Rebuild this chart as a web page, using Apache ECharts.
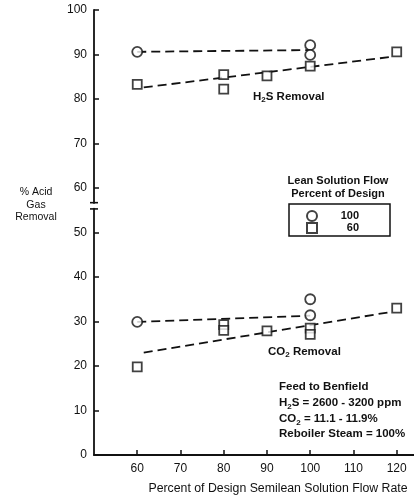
<!DOCTYPE html>
<html>
<head>
<meta charset="utf-8">
<script src="https://cdn.jsdelivr.net/npm/echarts@6/dist/echarts.min.js"></script>
<style>html,body{margin:0;padding:0;background:#fff}#c{width:414px;height:496px}</style>
</head>
<body>
<div id="c"></div>
<script>
// ---- data ----
var xTicks = [60, 70, 80, 90, 100, 110, 120];
var h2s100 = [[60, 90.6], [100, 92.1], [100, 89.9]];
var h2s60 = [[60, 83.3], [80, 85.5], [80, 82.2], [90, 85.2], [100, 87.4], [120, 90.6]];
var co2100 = [[60, 29.9], [100, 35.0], [100, 31.4]];
var co260 = [[60, 19.8], [80, 29.3], [80, 28.0], [90, 27.9], [100, 28.5], [100, 27.1], [120, 33.0]];
var fitH2s100 = [[60, 90.6], [100, 91.0]];
var fitH2s60 = [[61.5, 82.6], [119, 89.5]];
var fitCo2100 = [[60, 29.9], [100, 31.3]];
var fitCo260 = [[61.5, 23.0], [119, 32.2]];
var legendNames = ['100', '60'];
var breakRange = [55.3, 56.7];

var FONT = 'Liberation Sans, Arial, sans-serif';
var chart = echarts.init(document.getElementById('c'), null, {renderer: 'canvas'});

function fitSeries(d) {
  return {
    type: 'line', data: d, symbol: 'none', silent: true, z: 2,
    lineStyle: {color: '#111', width: 1.8, type: [9, 5]}
  };
}
var markStyle = {color: '#fff', borderColor: '#111', borderWidth: 1.8};
var subRich = function (lh) {
  return {
    b: {font: 'bold 11.5px ' + FONT, fill: '#111', lineHeight: lh},
    s: {font: 'bold 8px ' + FONT, fill: '#111', lineHeight: lh, verticalAlign: 'bottom', padding: [5, 0, 0, 0]}
  };
};

var baseGraphic = [
  {id: 'legTitle', type: 'text', x: 338, y: 175, style: {text: 'Lean Solution Flow\nPercent of Design', align: 'center', verticalAlign: 'top', font: 'bold 11px ' + FONT, fill: '#111', lineHeight: 12.5}},
  {id: 'yName', type: 'text', x: 36, y: 186, style: {text: '% Acid\nGas\nRemoval', align: 'center', verticalAlign: 'top', font: '10.5px ' + FONT, fill: '#111', lineHeight: 12.5}},
  {id: 'h2sLab', type: 'text', x: 253, y: 90, style: {text: '{b|H}{s|2}{b|S Removal}', rich: subRich(14)}},
  {id: 'co2Lab', type: 'text', x: 268, y: 345, style: {text: '{b|CO}{s|2}{b| Removal}', rich: subRich(14)}},
  {id: 'feed', type: 'text', x: 279, y: 379, style: {
    text: '{b|Feed to Benfield}\n{b|H}{s|2}{b|S = 2600 - 3200 ppm}\n{b|CO}{s|2}{b| = 11.1 - 11.9%}\n{b|Reboiler Steam = 100%}',
    rich: subRich(15.8)
  }}
];

var option = {
  animation: false,
  backgroundColor: '#fff',
  grid: {left: 94, right: 0, top: 10, bottom: 41, containLabel: false, outerBoundsMode: 'none'},
  xAxis: {
    type: 'value', min: 50, max: 124, interval: 10,
    axisLine: {lineStyle: {color: '#111', width: 1.8}},
    axisTick: {inside: true, length: 5, lineStyle: {color: '#111', width: 1.5}, customValues: xTicks},
    axisLabel: {color: '#111', fontFamily: FONT, fontSize: 12, margin: 8, customValues: xTicks},
    splitLine: {show: false},
    name: 'Percent of Design Semilean Solution Flow Rate',
    nameLocation: 'middle', nameGap: 28,
    nameTextStyle: {color: '#111', fontFamily: FONT, fontSize: 12.3, padding: [0, 0, 0, 48]}
  },
  yAxis: {
    type: 'value', min: 0, max: 100, interval: 10,
    axisLine: {show: true, lineStyle: {color: '#111', width: 1.8}},
    axisTick: {show: true, inside: true, length: 5, lineStyle: {color: '#111', width: 1.5}},
    axisLabel: {color: '#111', fontFamily: FONT, fontSize: 12, margin: 7},
    splitLine: {show: false}
  },
  legend: {
    data: legendNames, orient: 'vertical', left: 289, top: 204,
    itemWidth: 10, itemHeight: 10, itemGap: 0,
    padding: [6, 31, 2, 17],
    borderColor: '#111', borderWidth: 1.5,
    formatter: function (n) { return '{a|' + n + '}'; },
    textStyle: {
      rich: {a: {width: 37, align: 'right', fontFamily: FONT, fontSize: 11, fontWeight: 'bold', color: '#111', lineHeight: 13}}
    }
  },
  graphic: baseGraphic,
  series: [
    fitSeries(fitH2s100), fitSeries(fitH2s60), fitSeries(fitCo2100), fitSeries(fitCo260),
    {name: '100', type: 'scatter', symbol: 'circle', symbolSize: 10, z: 5, data: h2s100.concat(co2100), itemStyle: markStyle},
    {name: '60', type: 'scatter', symbol: 'rect', symbolSize: 9, z: 5, data: h2s60.concat(co260), itemStyle: markStyle}
  ]
};
chart.setOption(option);

// axis break marker on the y axis
var pTop = chart.convertToPixel({gridIndex: 0}, [50, breakRange[1]]);
var pBot = chart.convertToPixel({gridIndex: 0}, [50, breakRange[0]]);
chart.setOption({graphic: baseGraphic.concat([
  {id: 'brkGap', type: 'rect', z: 100, shape: {x: pTop[0] - 3, y: pTop[1] + 1, width: 6, height: pBot[1] - pTop[1] - 2}, style: {fill: '#fff', stroke: null}},
  {id: 'brkTop', type: 'line', z: 101, shape: {x1: pTop[0] - 4, y1: pTop[1], x2: pTop[0] + 4, y2: pTop[1]}, style: {stroke: '#111', lineWidth: 1.6}},
  {id: 'brkBot', type: 'line', z: 101, shape: {x1: pBot[0] - 4, y1: pBot[1], x2: pBot[0] + 4, y2: pBot[1]}, style: {stroke: '#111', lineWidth: 1.6}}
])});
</script>
</body>
</html>
